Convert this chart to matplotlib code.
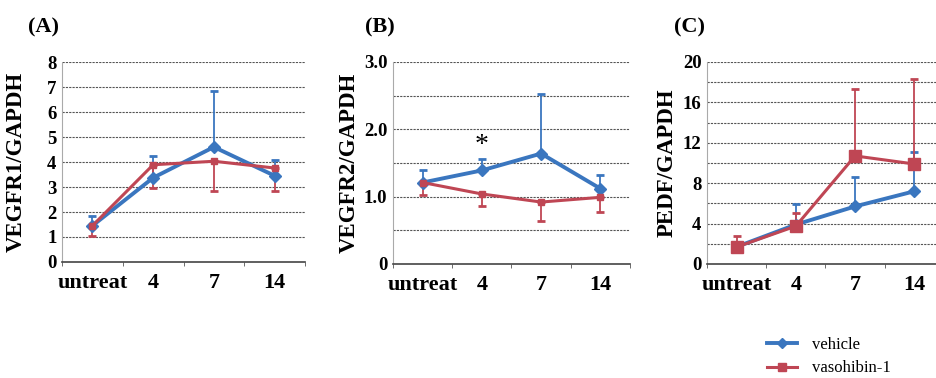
import numpy as np
import matplotlib
matplotlib.use("Agg")
import matplotlib.pyplot as plt

plt.rcParams['font.family'] = ['Liberation Serif', 'DejaVu Serif']

categories = ["untreat", "4", "7", "14"]

# panel A: VEGFR1/GAPDH
a_vehicle = [1.45, 3.37, 4.6, 3.45]
a_vehicle_err = [0.40, 0.86, 2.23, 0.64]
a_vaso = [1.45, 3.89, 4.03, 3.76]
a_vaso_err = [0.42, 0.93, 1.18, 0.91]

# panel B: VEGFR2/GAPDH
b_vehicle = [1.21, 1.39, 1.64, 1.12]
b_vehicle_err = [0.18, 0.17, 0.88, 0.20]
b_vaso = [1.21, 1.04, 0.92, 0.99]
b_vaso_err = [0.19, 0.18, 0.28, 0.22]

# panel C: PEDF/GAPDH
c_vehicle = [1.7, 3.9, 5.7, 7.2]
c_vehicle_err = [0.3, 2.0, 2.9, 3.9]
c_vaso = [1.68, 3.75, 10.7, 9.9]
c_vaso_err = [1.12, 1.25, 6.6, 8.4]

blue = '#3a76bf'
red = '#bf4654'

fig = plt.figure(figsize=(9.37, 3.78), dpi=100)

panels = [
    dict(rect=[0.0662, 0.3069, 0.2593, 0.529], ylim=8, yticks=np.arange(0, 9, 1),
         ylabels=[str(v) for v in range(9)], grid=np.arange(1, 9, 1),
         ylabel="VEGFR1/GAPDH", lab_x=-0.145, title="(A)", title_x=44,
         veh=a_vehicle, veh_err=a_vehicle_err, vas=a_vaso, vas_err=a_vaso_err,
         vas_up=False, ms_vas=5),
    dict(rect=[0.4194, 0.3016, 0.2529, 0.5344], ylim=3.0, yticks=[0, 1, 2, 3],
         ylabels=["0", "1.0", "2.0", "3.0"], grid=np.arange(0.5, 3.01, 0.5),
         ylabel="VEGFR2/GAPDH", lab_x=-0.14, title="(B)", title_x=380,
         veh=b_vehicle, veh_err=b_vehicle_err, vas=b_vaso, vas_err=b_vaso_err,
         vas_up=False, ms_vas=5),
    dict(rect=[0.7545, 0.3016, 0.2529, 0.5344], ylim=20, yticks=np.arange(0, 21, 4),
         ylabels=[str(v) for v in range(0, 21, 4)], grid=np.arange(2, 21, 2),
         ylabel="PEDF/GAPDH", lab_x=-0.125, title="(C)", title_x=690,
         veh=c_vehicle, veh_err=c_vehicle_err, vas=c_vaso, vas_err=c_vaso_err,
         vas_up=True, ms_vas=8),
]

x = np.arange(len(categories))
handles = []
for p in panels:
    ax = fig.add_axes(p['rect'])
    for g in p['grid']:
        ax.axhline(g, color='#555555', lw=0.8, ls=(0, (2, 1)), zorder=1)
    zeros = [0] * len(x)
    ax.errorbar(x, p['veh'], yerr=[zeros, p['veh_err']], fmt='none', ecolor=blue,
                elinewidth=1.3, capsize=3, capthick=2, zorder=3)
    vas_yerr = [zeros, p['vas_err']] if p['vas_up'] else [p['vas_err'], zeros]
    ax.errorbar(x, p['vas'], yerr=vas_yerr, fmt='none', ecolor=red,
                elinewidth=1.3, capsize=3, capthick=2, zorder=3)
    lv, = ax.plot(x, p['veh'], color=blue, lw=2.8, marker='D', ms=6, zorder=4)
    lr, = ax.plot(x, p['vas'], color=red, lw=2.2, marker='s', ms=p['ms_vas'], zorder=5)
    handles = [lv, lr]

    ax.set_xlim(-0.5, 3.5)
    ax.set_ylim(0, p['ylim'])
    ax.set_yticks(p['yticks'])
    ax.set_yticklabels(p['ylabels'])
    ax.set_xticks(x)
    ax.set_xticklabels(categories)
    ax.set_xticks([-0.5, 0.5, 1.5, 2.5, 3.5], minor=True)
    ax.tick_params(axis='x', which='major', length=0, pad=8, labelsize=16)
    ax.tick_params(axis='x', which='minor', length=3, color='#555555', direction='out')
    ax.tick_params(axis='y', length=0, pad=4, labelsize=13.5)
    for lab in ax.get_xticklabels() + ax.get_yticklabels():
        lab.set_fontweight('bold')
    ax.spines['top'].set_visible(False)
    ax.spines['right'].set_visible(False)
    ax.spines['left'].set_linestyle((0, (2, 1)))
    ax.spines['left'].set_color('#aaaaaa')
    ax.spines['left'].set_linewidth(0.8)
    ax.spines['bottom'].set_color('#444444')
    ax.spines['bottom'].set_linewidth(1.2)
    ax.set_ylabel(p['ylabel'], fontsize=16.5, fontweight='bold')
    ax.yaxis.set_label_coords(p['lab_x'], 0.5)
    fig.text(p['title_x'] / 937, 1 - 27 / 378, p['title'], fontsize=16,
             fontweight='bold', ha='center', va='center')
    if p['title'] == "(B)":
        ax.text(1, 1.76, "*", fontsize=20, ha='center', va='center')

fig.legend(handles, ["vehicle", "vasohibin-1"], loc='upper left',
           bbox_to_anchor=(752 / 937, 1 - 322 / 378), frameon=False,
           fontsize=12, handlelength=1.8, handletextpad=0.9, labelspacing=0.45,
           markerscale=0.8)

fig.savefig("out.png", dpi=100)
